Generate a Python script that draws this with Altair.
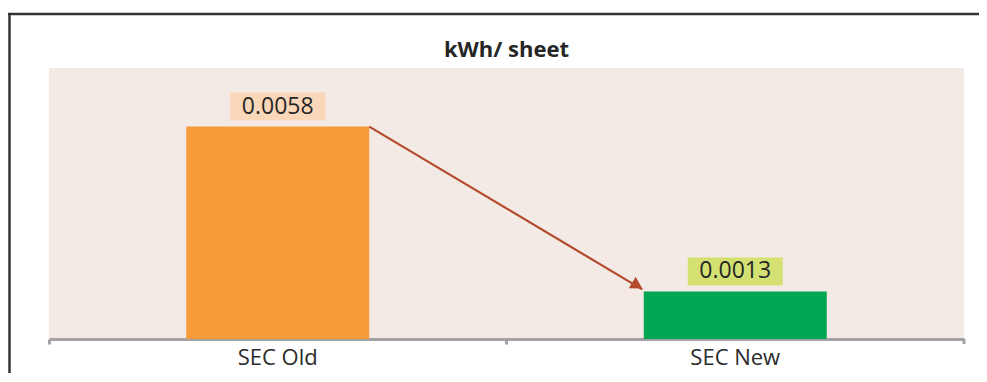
import altair as alt
import pandas as pd

categories = ["SEC Old", "SEC New"]
values = [0.0058, 0.0013]
value_labels = ["0.0058", "0.0013"]
bar_colors = ["#F59B3A", "#00A651"]
box_colors = ["#F9D7B8", "#D4E172"]
title_text = "kWh/ sheet"

df = pd.DataFrame({
    "cat": categories,
    "val": values,
    "lab": value_labels,
    "bar_color": bar_colors,
    "box_color": box_colors,
})
arrow_df = pd.DataFrame({
    "from": [categories[0]],
    "to": [categories[1]],
    "y1": [values[0]],
    "y2": [values[1]],
})
title_df = pd.DataFrame({"t": [title_text]})

W, H = 915, 271
FONT = "Open Sans"

xscale = alt.Scale(domain=categories, paddingInner=0.6, paddingOuter=0.3)
yscale = alt.Scale(domain=[0, 0.0074], nice=False, zero=True)

x_enc = alt.X("cat:N", scale=xscale, sort=categories,
              axis=alt.Axis(title=None, labelAngle=0, labelFont=FONT, labelFontSize=22,
                            labelColor="#2b2b2b", labelPadding=3,
                            domainColor="#A3A3A6", domainWidth=3,
                            tickColor="#A3A3A6", tickWidth=3, tickSize=5,
                            bandPosition=-0.75))
y_enc = alt.Y("val:Q", scale=yscale, axis=None)

frame_top = alt.Chart(title_df).mark_rule(color="#333333", strokeWidth=2.5).encode(
    x=alt.value(-41), x2=alt.value(W + 120), y=alt.value(-54),
)
frame_left = alt.Chart(title_df).mark_rule(color="#333333", strokeWidth=2.5).encode(
    x=alt.value(-39.5), y=alt.value(-55), y2=alt.value(H + 80),
)

title = alt.Chart(title_df).mark_text(
    font=FONT, fontSize=22, fontWeight="bold", color="#262626",
    align="center", baseline="alphabetic",
).encode(x=alt.value(W / 2), y=alt.value(-11), text="t:N")

bars = alt.Chart(df).mark_bar().encode(
    x=x_enc, y=y_enc,
    color=alt.Color("bar_color:N", scale=None),
)

end_tick = alt.Chart(title_df).mark_rule(color="#A3A3A6", strokeWidth=3).encode(
    x=alt.value(W), y=alt.value(H), y2=alt.value(H + 5),
)

boxes = alt.Chart(df).mark_rect(width=95, height=28, yOffset=-20).encode(
    x=alt.X("cat:N", scale=xscale, sort=categories),
    y=alt.Y("val:Q", scale=yscale),
    color=alt.Color("box_color:N", scale=None),
)

texts = alt.Chart(df).mark_text(
    font=FONT, fontSize=23, color="#262626", baseline="middle", align="center", yOffset=-20
).encode(
    x=alt.X("cat:N", scale=xscale, sort=categories),
    y=alt.Y("val:Q", scale=yscale),
    text="lab:N",
)

arrow_line = alt.Chart(arrow_df).mark_rule(
    color="#B34A2C", strokeWidth=2.2, xOffset=91.5, x2Offset=-93, y2Offset=-2
).encode(
    x=alt.X("from:N", scale=xscale, sort=categories),
    x2="to:N",
    y=alt.Y("y1:Q", scale=yscale),
    y2="y2:Q",
)

arrow_head = alt.Chart(arrow_df).mark_point(
    shape="triangle-up", filled=True, size=180, angle=121, color="#B34A2C",
    opacity=1, xOffset=-91.5 - 6.5, yOffset=-6
).encode(
    x=alt.X("to:N", scale=xscale, sort=categories),
    y=alt.Y("y2:Q", scale=yscale),
)

chart = alt.layer(frame_top, frame_left, title, bars, end_tick, boxes, texts,
                  arrow_line, arrow_head).properties(
    width=W, height=H,
    background="white",
    autosize=alt.AutoSizeParams(type="none"),
    padding={"left": 41, "top": 60, "right": 15, "bottom": 34},
).configure_view(
    fill="#F3EAE5", strokeWidth=0,
)

chart.save("out.html", embed_options={"renderer": "svg", "actions": False})
